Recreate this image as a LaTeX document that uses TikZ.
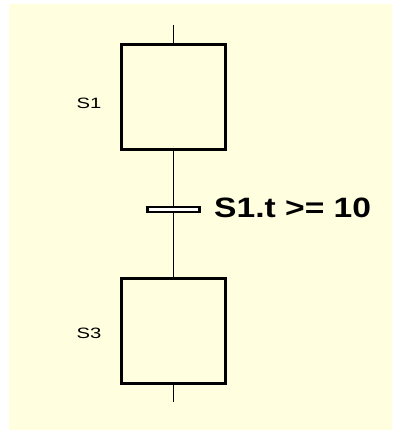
\documentclass[tikz,border=0pt]{standalone}
\usepackage{fontspec}
\setmainfont{Liberation Sans}
\newfontfamily\labfont[FakeStretch=1.35]{Liberation Sans}
\newfontfamily\condfont[FakeStretch=1.2]{Liberation Sans Bold}
\definecolor{bgyellow}{HTML}{FFFFE0}
\begin{document}
\begin{tikzpicture}[x=1pt,y=-1pt,
  stepbox/.style={draw=black,line width=3pt,fill=bgyellow,minimum width=104pt,minimum height=105pt,inner sep=0pt},
  transbar/.style={draw=black,line width=2.5pt,fill=white,minimum width=52pt,minimum height=5pt,inner sep=0pt},
  link/.style={draw=black,line width=1.3pt},
  steplabel/.style={font={\labfont\fontsize{15pt}{17pt}\selectfont},inner sep=0pt},
  condlabel/.style={font={\condfont\fontsize{28pt}{30pt}\selectfont},inner sep=0pt,anchor=west}]
\useasboundingbox (0,0) rectangle (392,430);
\fill[bgyellow] (9,4) rectangle (392,430);
\coordinate (top) at (173.5,25);
\coordinate (bot) at (173.5,402);
\node[stepbox] (s1) at (173.5,97) {};
\node[stepbox] (s3) at (173.5,331) {};
\node[transbar] (t1) at (173.5,209.5) {};
\draw[link] (top) -- (s1.north);
\draw[link] (s1.south) -- (t1.north);
\draw[link] (t1.south) -- (s3.north);
\draw[link] (s3.south) -- (bot);
\node[steplabel] (l1) at (89,103) {S1};
\node[steplabel] (l3) at (89,333) {S3};
\node[condlabel] (c1) at (214,208) {S1.t >= 10};
\end{tikzpicture}
\end{document}
